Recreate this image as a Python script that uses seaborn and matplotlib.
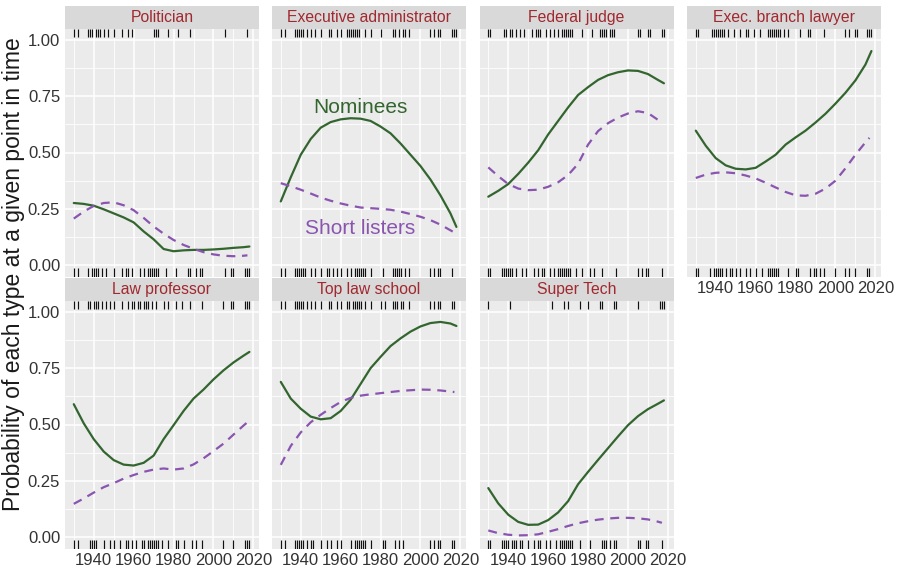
"""
Nominees vs short listers: probability of each type over time,
one facet per type, with rugs for the years in the data.
"""

import pandas as pd
import matplotlib
matplotlib.use("Agg")
import matplotlib.pyplot as plt
import matplotlib.transforms as mtransforms
import seaborn as sns

# ---------------------------------------------------------------
# Data
# ---------------------------------------------------------------
types = ["Politician", "Executive administrator", "Federal judge",
         "Exec. branch lawyer", "Law professor", "Top law school",
         "Super Tech"]

nom_years = [1930, 1935, 1940, 1945, 1950, 1955, 1960, 1965, 1970, 1975,
             1980, 1985, 1990, 1995, 2000, 2005, 2010, 2015, 2018]
short_years = [1930, 1935, 1940, 1945, 1950, 1955, 1960, 1965, 1970, 1975,
               1980, 1985, 1990, 1995, 2000, 2005, 2010, 2015, 2017]

politician_nom = [0.276, 0.272, 0.264, 0.248, 0.230, 0.212, 0.190, 0.150,
                  0.115, 0.072, 0.062, 0.066, 0.068, 0.068, 0.070, 0.073,
                  0.077, 0.080, 0.083]
politician_short = [0.207, 0.238, 0.263, 0.276, 0.279, 0.266, 0.244, 0.210,
                    0.172, 0.140, 0.112, 0.090, 0.073, 0.058, 0.048, 0.042,
                    0.040, 0.042, 0.044]

exec_admin_nom = [0.283, 0.390, 0.490, 0.560, 0.610, 0.635, 0.647, 0.652,
                  0.650, 0.640, 0.615, 0.585, 0.540, 0.490, 0.440, 0.380,
                  0.310, 0.230, 0.170]
exec_admin_short = [0.364, 0.350, 0.335, 0.318, 0.300, 0.286, 0.274, 0.264,
                    0.256, 0.253, 0.250, 0.246, 0.238, 0.227, 0.215, 0.200,
                    0.180, 0.155, 0.145]

fed_judge_nom = [0.304, 0.330, 0.360, 0.405, 0.455, 0.510, 0.580, 0.640,
                 0.700, 0.755, 0.790, 0.822, 0.843, 0.856, 0.864, 0.862,
                 0.848, 0.822, 0.807]
fed_judge_short = [0.434, 0.395, 0.360, 0.340, 0.333, 0.335, 0.348, 0.368,
                   0.400, 0.450, 0.535, 0.595, 0.630, 0.655, 0.673, 0.683,
                   0.675, 0.645, 0.635]

exec_lawyer_nom = [0.597, 0.530, 0.475, 0.443, 0.428, 0.425, 0.432, 0.460,
                   0.490, 0.535, 0.567, 0.597, 0.633, 0.672, 0.717, 0.765,
                   0.820, 0.890, 0.950]
exec_lawyer_short = [0.387, 0.402, 0.410, 0.412, 0.408, 0.398, 0.385, 0.366,
                     0.345, 0.325, 0.310, 0.308, 0.317, 0.340, 0.375, 0.430,
                     0.490, 0.545, 0.565]

law_prof_nom = [0.590, 0.505, 0.435, 0.380, 0.342, 0.322, 0.318, 0.330,
                0.362, 0.435, 0.497, 0.560, 0.615, 0.655, 0.700, 0.740,
                0.775, 0.805, 0.822]
law_prof_short = [0.148, 0.172, 0.198, 0.222, 0.240, 0.260, 0.276, 0.290,
                  0.300, 0.305, 0.300, 0.305, 0.323, 0.350, 0.382, 0.415,
                  0.455, 0.495, 0.510]

top_school_nom = [0.689, 0.615, 0.570, 0.535, 0.523, 0.528, 0.560, 0.610,
                  0.680, 0.750, 0.800, 0.848, 0.882, 0.912, 0.935, 0.950,
                  0.955, 0.948, 0.937]
top_school_short = [0.321, 0.405, 0.465, 0.510, 0.543, 0.573, 0.600, 0.618,
                    0.628, 0.634, 0.639, 0.644, 0.649, 0.652, 0.655, 0.654,
                    0.651, 0.646, 0.644]

super_tech_nom = [0.218, 0.150, 0.100, 0.068, 0.055, 0.056, 0.076, 0.110,
                  0.160, 0.235, 0.290, 0.343, 0.395, 0.447, 0.497, 0.537,
                  0.568, 0.592, 0.607]
super_tech_short = [0.030, 0.018, 0.011, 0.008, 0.009, 0.013, 0.024, 0.036,
                    0.050, 0.062, 0.071, 0.078, 0.083, 0.086, 0.086, 0.084,
                    0.079, 0.069, 0.064]

# rug years: top = has the trait, bottom = does not
politician_top = [1930, 1932, 1937, 1938, 1939, 1941, 1942, 1943, 1945, 1947,
                  1950, 1954, 1957, 1959, 1970, 1971, 1972, 1977, 1982, 1988,
                  2006, 2017]
politician_bottom = [1930, 1932, 1937, 1939, 1940, 1941, 1942, 1944, 1946,
                     1950, 1954, 1956, 1957, 1959, 1963, 1965, 1967, 1968,
                     1969, 1970, 1971, 1972, 1976, 1981, 1987, 1988, 1991,
                     1993, 1994, 2006, 2009, 2010, 2016, 2017, 2018]

exec_admin_top = [1930, 1932, 1937, 1938, 1939, 1940, 1941, 1943, 1945, 1947,
                  1950, 1954, 1955, 1958, 1960, 1963, 1964, 1965, 1966, 1967,
                  1968, 1969, 1972, 1975, 1980, 1986, 1987, 1989, 1991, 1992,
                  1994, 2005, 2007, 2009, 2010, 2016, 2017, 2018]
exec_admin_bottom = [1930, 1932, 1937, 1938, 1939, 1940, 1941, 1942, 1945,
                     1947, 1950, 1953, 1954, 1956, 1958, 1960, 1963, 1965,
                     1967, 1968, 1969, 1970, 1971, 1972, 1975, 1981, 1986,
                     1987, 1988, 1989, 1990, 1992, 1994, 2005, 2007, 2009,
                     2010, 2016]

fed_judge_top = [1930, 1931, 1938, 1939, 1941, 1942, 1944, 1946, 1948, 1952,
                 1954, 1955, 1956, 1959, 1961, 1963, 1965, 1967, 1968, 1969,
                 1970, 1971, 1972, 1977, 1982, 1986, 1987, 1988, 1989, 1991,
                 1992, 1993, 2005, 2006, 2010, 2011, 2017, 2018]
fed_judge_bottom = [1930, 1931, 1937, 1938, 1939, 1940, 1941, 1942, 1944,
                    1947, 1949, 1953, 1955, 1957, 1958, 1961, 1963, 1965,
                    1966, 1967, 1968, 1969, 1970, 1971, 1974, 1977, 1981,
                    1983, 1987, 1994, 2005, 2007, 2009, 2010, 2017]

exec_lawyer_top = [1930, 1931, 1938, 1939, 1940, 1941, 1942, 1943, 1944,
                   1946, 1949, 1952, 1955, 1956, 1959, 1962, 1966, 1967,
                   1968, 1969, 1970, 1971, 1972, 1974, 1976, 1982, 1986,
                   1987, 1994, 2005, 2007, 2010, 2011, 2016, 2017, 2018]
exec_lawyer_bottom = [1930, 1931, 1937, 1939, 1940, 1941, 1942, 1943, 1945,
                      1947, 1948, 1950, 1952, 1955, 1957, 1960, 1963, 1966,
                      1967, 1968, 1969, 1970, 1971, 1976, 1980, 1981, 1987,
                      1989, 1990, 1992, 1994, 2000, 2005, 2007, 2010, 2016,
                      2017]

law_prof_top = [1930, 1932, 1937, 1938, 1940, 1941, 1942, 1944, 1946, 1948,
                1950, 1954, 1957, 1959, 1960, 1962, 1963, 1965, 1966, 1967,
                1969, 1971, 1975, 1977, 1981, 1984, 1988, 1994, 2005, 2009,
                2010, 2016, 2017, 2018]
law_prof_bottom = [1930, 1932, 1938, 1939, 1940, 1941, 1945, 1948, 1950,
                   1953, 1956, 1957, 1959, 1961, 1964, 1965, 1967, 1968,
                   1969, 1970, 1971, 1972, 1974, 1977, 1981, 1982, 1985,
                   1989, 1991, 1994, 2005, 2010, 2016, 2017, 2018]

top_school_top = [1930, 1932, 1937, 1938, 1939, 1940, 1941, 1943, 1945, 1947,
                  1950, 1954, 1955, 1958, 1960, 1963, 1964, 1966, 1967, 1968,
                  1969, 1970, 1972, 1975, 1980, 1982, 1986, 1987, 1988, 1990,
                  1991, 1994, 2005, 2007, 2009, 2010, 2016, 2017]
top_school_bottom = [1930, 1932, 1937, 1938, 1939, 1940, 1941, 1943, 1945,
                     1946, 1950, 1953, 1955, 1958, 1960, 1965, 1967, 1968,
                     1969, 1970, 1971, 1972, 1975, 1981, 1982, 1987, 1989,
                     1991, 2005, 2007, 2009, 2010, 2016, 2017]

super_tech_top = [1930, 1941, 1962, 1968, 1970, 1976, 1980, 1986, 1987, 1993,
                  1994, 2005, 2016, 2017, 2018]
super_tech_bottom = [1930, 1931, 1937, 1938, 1939, 1940, 1942, 1943, 1944,
                     1946, 1947, 1950, 1953, 1955, 1956, 1959, 1961, 1964,
                     1966, 1967, 1968, 1969, 1970, 1971, 1972, 1976, 1981,
                     1987, 1988, 1989, 1991, 1993, 1994, 2005, 2006, 2009,
                     2010, 2017]

x_ticks = [1940, 1960, 1980, 2000, 2020]
x_minor = [1930, 1950, 1970, 1990, 2010]
y_ticks = [0.00, 0.25, 0.50, 0.75, 1.00]
y_minor = [0.125, 0.375, 0.625, 0.875]

# ---------------------------------------------------------------
# Style
# ---------------------------------------------------------------
GREEN = "#33652f"
PURPLE = "#8a55b0"
STRIP_TEXT = "#a0282e"
PANEL_BG = "#ebebeb"
STRIP_BG = "#d9d9d9"
TEXT = "#333333"

sns.set_style("white")
plt.rcParams["font.family"] = ["Liberation Sans", "DejaVu Sans"]

W, H = 897, 569


def build_frame(nom, short):
    """Long table with one row per point for a single facet."""
    a = pd.DataFrame({"year": nom_years, "prob": nom, "group": "Nominees"})
    b = pd.DataFrame({"year": short_years, "prob": short,
                      "group": "Short listers"})
    return pd.concat([a, b], ignore_index=True)


def px_axes(fig, left, top, width, height):
    """Add axes from pixel coordinates measured from the top-left corner."""
    return fig.add_axes([left / W, 1 - (top + height) / H, width / W, height / H])


def draw_rug(ax, years, top):
    trans = mtransforms.blended_transform_factory(ax.transData, ax.transAxes)
    y0, y1 = (0.965, 1.0) if top else (0.0, 0.035)
    ax.vlines(years, y0, y1, transform=trans, color="#111111", lw=0.85,
              zorder=4)


def draw_panel(fig, col, row, name, nom, short, rug_top, rug_bottom,
               show_x, show_y):
    lefts = [65, 272, 479.5, 687]
    panel_w = 194
    strip_tops = [6, 278]
    strip_h = 22.5
    panel_h = 248

    left = lefts[col]
    strip_top = strip_tops[row]
    ax = px_axes(fig, left, strip_top + strip_h, panel_w, panel_h)
    strip = px_axes(fig, left, strip_top, panel_w, strip_h)

    # strip
    strip.set_facecolor(STRIP_BG)
    strip.set_xticks([])
    strip.set_yticks([])
    for s in strip.spines.values():
        s.set_visible(False)
    strip.text(0.5, 0.47, name, ha="center", va="center", color=STRIP_TEXT,
               fontsize=11.3, transform=strip.transAxes)

    # panel background and grid
    ax.set_facecolor(PANEL_BG)
    for s in ax.spines.values():
        s.set_visible(False)
    ax.set_xlim(1925.6, 2022.8)
    ax.set_ylim(-0.05, 1.05)
    for v in x_minor:
        ax.axvline(v, color="white", lw=0.6, zorder=0)
    for v in y_minor:
        ax.axhline(v, color="white", lw=0.6, zorder=0)
    for v in x_ticks:
        ax.axvline(v, color="white", lw=1.1, zorder=0)
    for v in y_ticks:
        ax.axhline(v, color="white", lw=1.1, zorder=0)

    df = build_frame(nom, short)
    sns.lineplot(data=df, x="year", y="prob", hue="group", style="group",
                 palette={"Nominees": GREEN, "Short listers": PURPLE},
                 dashes={"Nominees": "", "Short listers": (4, 3)},
                 linewidth=1.6, legend=False, ax=ax, zorder=3)

    draw_rug(ax, rug_top, True)
    draw_rug(ax, rug_bottom, False)

    ax.set_xticks(x_ticks)
    ax.set_yticks(y_ticks)
    ax.set_xlabel("")
    ax.set_ylabel("")
    ax.tick_params(axis="both", length=2.5, width=0.8, color=TEXT,
                   labelsize=12, labelcolor=TEXT, pad=1)
    if show_x:
        ax.set_xticklabels([str(v) for v in x_ticks])
    else:
        ax.tick_params(axis="x", length=0, labelbottom=False)
    if show_y:
        ax.set_yticklabels([f"{v:.2f}" for v in y_ticks])
    else:
        ax.tick_params(axis="y", length=0, labelleft=False)
    return ax


def main():
    fig = plt.figure(figsize=(W / 100, H / 100), dpi=100)

    panels = [
        (0, 0, politician_nom, politician_short, politician_top, politician_bottom, False, True),
        (1, 0, exec_admin_nom, exec_admin_short, exec_admin_top, exec_admin_bottom, False, False),
        (2, 0, fed_judge_nom, fed_judge_short, fed_judge_top, fed_judge_bottom, False, False),
        (3, 0, exec_lawyer_nom, exec_lawyer_short, exec_lawyer_top, exec_lawyer_bottom, True, False),
        (0, 1, law_prof_nom, law_prof_short, law_prof_top, law_prof_bottom, True, True),
        (1, 1, top_school_nom, top_school_short, top_school_top, top_school_bottom, True, False),
        (2, 1, super_tech_nom, super_tech_short, super_tech_top, super_tech_bottom, True, False),
    ]

    axes = []
    for name, (col, row, nom, short, rt, rb, sx, sy) in zip(types, panels):
        axes.append(draw_panel(fig, col, row, name, nom, short, rt, rb, sx, sy))

    # direct labels in the executive administrator panel
    axes[1].text(1970, 0.70, "Nominees", color=GREEN, fontsize=15,
                 ha="center", va="center")
    axes[1].text(1970, 0.165, "Short listers", color=PURPLE, fontsize=15,
                 ha="center", va="center")

    fig.text(14 / W, 1 - 274 / H, "Probability of each type at a given point in time",
             rotation=90, ha="center", va="center", fontsize=16.5, color="#1a1a1a")

    fig.savefig("out.png", dpi=100)


if __name__ == "__main__":
    main()
